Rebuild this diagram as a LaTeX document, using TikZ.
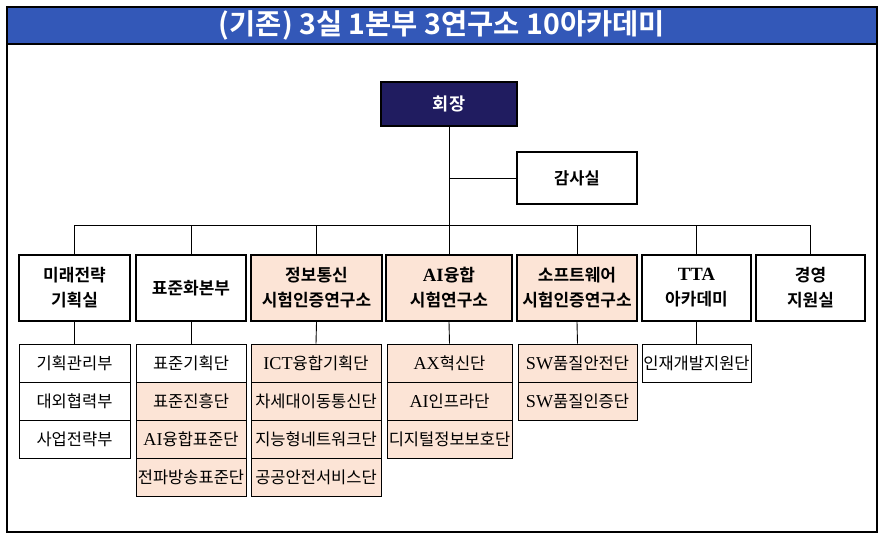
\documentclass[tikz,border=0pt]{standalone}
\usepackage{fontspec}
\setmainfont{Noto Sans CJK KR}[BoldFont={Noto Sans CJK KR Bold}]
\newfontfamily\lser{Liberation Serif}[Scale=1.1]
\definecolor{titleblue}{RGB}{51,88,184}
\definecolor{navy}{RGB}{32,28,96}
\definecolor{peach}{RGB}{252,228,214}
\begin{document}
\begin{tikzpicture}[x=1pt,y=-1pt,
  topbox/.style={draw,line width=2.4pt,minimum height=66pt,inner sep=0pt,align=center,
     font=\fontsize{17}{25}\selectfont\bfseries},
  subbox/.style={draw,line width=0.9pt,minimum height=38pt,inner sep=0pt,align=center,
     font=\fontsize{16.5}{18}\selectfont},
  pf/.style={fill=peach},
  conn/.style={line width=0.9pt}]
\useasboundingbox (0,0) rectangle (882,541);
% frame
\draw[line width=1.2pt] (7,7) rectangle (877,532);
\node[draw,line width=1.2pt,fill=titleblue,minimum width=870pt,minimum height=37pt,inner sep=0pt,
  text=white,font=\fontsize{28.5}{30}\selectfont\bfseries] (title) at (442,25.5) {(기존) 3실 1본부 3연구소 10아카데미};
% top
\node[draw,line width=2.4pt,fill=navy,minimum width=136pt,minimum height=44pt,inner sep=0pt,
  text=white,font=\fontsize{17.5}{20}\selectfont\bfseries] (ceo) at (449,104) {회장};
\node[draw,line width=2.4pt,minimum width=120pt,minimum height=52pt,inner sep=0pt,
  font=\fontsize{16.5}{18}\selectfont\bfseries] (audit) at (577,178) {감사실};
\coordinate (bus) at (449,225);
% level 1
\node[topbox,minimum width=111pt] (L1) at (74.5,288) {미래전략\\기획실};
\node[topbox,minimum width=110pt] (L2) at (191,288) {표준화본부};
\node[topbox,pf,minimum width=131pt] (L3) at (316.5,288) {정보통신\\시험인증연구소};
\node[topbox,pf,minimum width=126pt] (L4) at (449,288) {{\lser AI}융합\\시험연구소};
\node[topbox,pf,minimum width=120pt] (L5) at (577,288) {소프트웨어\\시험인증연구소};
\node[topbox,minimum width=109pt] (L6) at (696.5,288) {{\lser TTA}\\아카데미};
\node[topbox,minimum width=109pt] (L7) at (810.5,288) {경영\\지원실};
% sub boxes
\node[subbox,minimum width=111pt] (S11) at (74.5,363) {기획관리부};
\node[subbox,minimum width=111pt] (S12) at (74.5,401) {대외협력부};
\node[subbox,minimum width=111pt] (S13) at (74.5,439) {사업전략부};
\node[subbox,minimum width=110pt] (S21) at (191,363) {표준기획단};
\node[subbox,pf,minimum width=110pt] (S22) at (191,401) {표준진흥단};
\node[subbox,pf,minimum width=110pt] (S23) at (191,439) {{\lser AI}융합표준단};
\node[subbox,pf,minimum width=110pt] (S24) at (191,477) {전파방송표준단};
\node[subbox,pf,minimum width=130pt] (S31) at (316,363) {{\lser ICT}융합기획단};
\node[subbox,pf,minimum width=130pt] (S32) at (316,401) {차세대이동통신단};
\node[subbox,pf,minimum width=130pt] (S33) at (316,439) {지능형네트워크단};
\node[subbox,pf,minimum width=130pt] (S34) at (316,477) {공공안전서비스단};
\node[subbox,pf,minimum width=125pt] (S41) at (449.5,363) {{\lser AX}혁신단};
\node[subbox,pf,minimum width=125pt] (S42) at (449.5,401) {{\lser AI}인프라단};
\node[subbox,pf,minimum width=125pt] (S43) at (449.5,439) {디지털정보보호단};
\node[subbox,pf,minimum width=119pt] (S51) at (577.5,363) {{\lser SW}품질안전단};
\node[subbox,pf,minimum width=119pt] (S52) at (577.5,401) {{\lser SW}품질인증단};
\node[subbox,minimum width=109pt] (S61) at (696.5,363) {인재개발지원단};
% connectors
\draw[conn] (ceo.south) -- (bus);
\draw[conn] (ceo.south |- audit.west) -- (audit.west);
\foreach \n in {L1,L2,L3,L4,L5,L6,L7} {\draw[conn] (bus) -| (\n.north);}
\foreach \a/\b in {L1/S11,L2/S21,L3/S31,L4/S41,L5/S51,L6/S61} {\draw[conn] (\a.south) -- (\b.north);}
\end{tikzpicture}
\end{document}
